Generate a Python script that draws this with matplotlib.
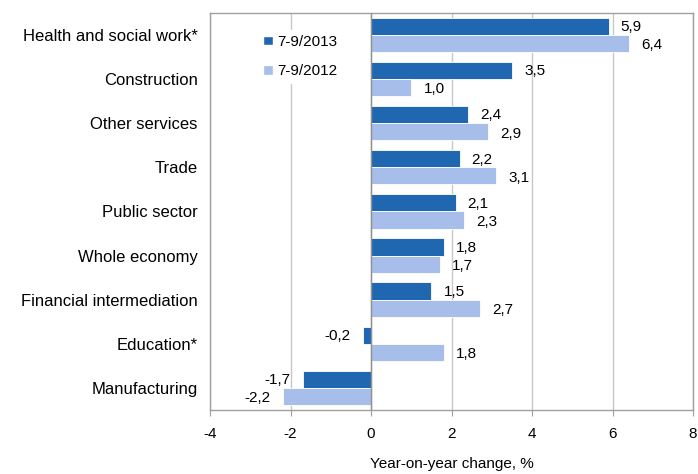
import numpy as np
import matplotlib.pyplot as plt
import matplotlib.patches as mpatches

plt.rcParams["font.family"] = ["Liberation Sans", "DejaVu Sans"]

CATEGORIES = ["Health and social work*", "Construction", "Other services", "Trade",
              "Public sector", "Whole economy", "Financial intermediation",
              "Education*", "Manufacturing"]
Q3_2013 = [5.9, 3.5, 2.4, 2.2, 2.1, 1.8, 1.5, -0.2, -1.7]
Q3_2012 = [6.4, 1.0, 2.9, 3.1, 2.3, 1.7, 2.7, 1.8, -2.2]
SERIES_LABELS = ["7-9/2013", "7-9/2012"]
X_TICKS = [-4, -2, 0, 2, 4, 6, 8]

DARK = "#1f67b1"
LIGHT = "#a7bdea"
FRAME = "#a0a0a0"

fig = plt.figure(figsize=(6.98, 4.74), dpi=100)
ax = fig.add_axes([0.301, 0.135, 0.692, 0.838])

y = np.arange(len(CATEGORIES))
h = 0.39
ax.barh(y - h / 2, Q3_2013, h, color=DARK, edgecolor="white", linewidth=0.6, zorder=3)
ax.barh(y + h / 2, Q3_2012, h, color=LIGHT, edgecolor="white", linewidth=0.6, zorder=3)

def fmt(v):
    return f"{v:.1f}".replace(".", ",")

for vals, yy, dy in ((Q3_2013, y - h / 2, 0.02), (Q3_2012, y + h / 2, 0.04)):
    for v, yc in zip(vals, yy):
        off = 0.3 if v >= 0 else -0.3
        ax.text(v + off, yc + dy, fmt(v), ha="left" if v >= 0 else "right",
                va="center", fontsize=11, color="black", zorder=4)

ax.set_xlim(-4, 8)
ax.set_ylim(len(CATEGORIES) - 0.5, -0.5)
ax.set_xticks(X_TICKS)
ax.set_xticklabels([str(t) for t in X_TICKS], fontsize=11)
ax.set_yticks(y)
ax.set_yticklabels(CATEGORIES, fontsize=12)
ax.tick_params(axis="y", length=0, pad=9)
ax.tick_params(axis="x", length=4, color=FRAME, pad=8, direction="out")

ax.grid(axis="x", color="#c8c8c8", linewidth=1.0, zorder=0)
ax.axvline(0, color="#909090", linewidth=1.0, zorder=3.5)
for s in ax.spines.values():
    s.set_color(FRAME)
    s.set_linewidth(1.0)

ax.set_xlabel("Year-on-year change, %", fontsize=11, labelpad=12)

handles = [mpatches.Patch(facecolor=DARK, edgecolor="white", label=SERIES_LABELS[0]),
           mpatches.Patch(facecolor=LIGHT, edgecolor="white", label=SERIES_LABELS[1])]
leg = ax.legend(handles=handles, loc="upper left", bbox_to_anchor=(0.085, 0.975),
                fontsize=11, frameon=True, handlelength=0.6, handleheight=0.6,
                handletextpad=0.3, labelspacing=1.0, borderpad=0.3)
leg.get_frame().set_edgecolor("white")
leg.get_frame().set_facecolor("white")
leg.get_frame().set_alpha(1.0)
leg.set_zorder(5)

fig.savefig("out.png", dpi=100)
